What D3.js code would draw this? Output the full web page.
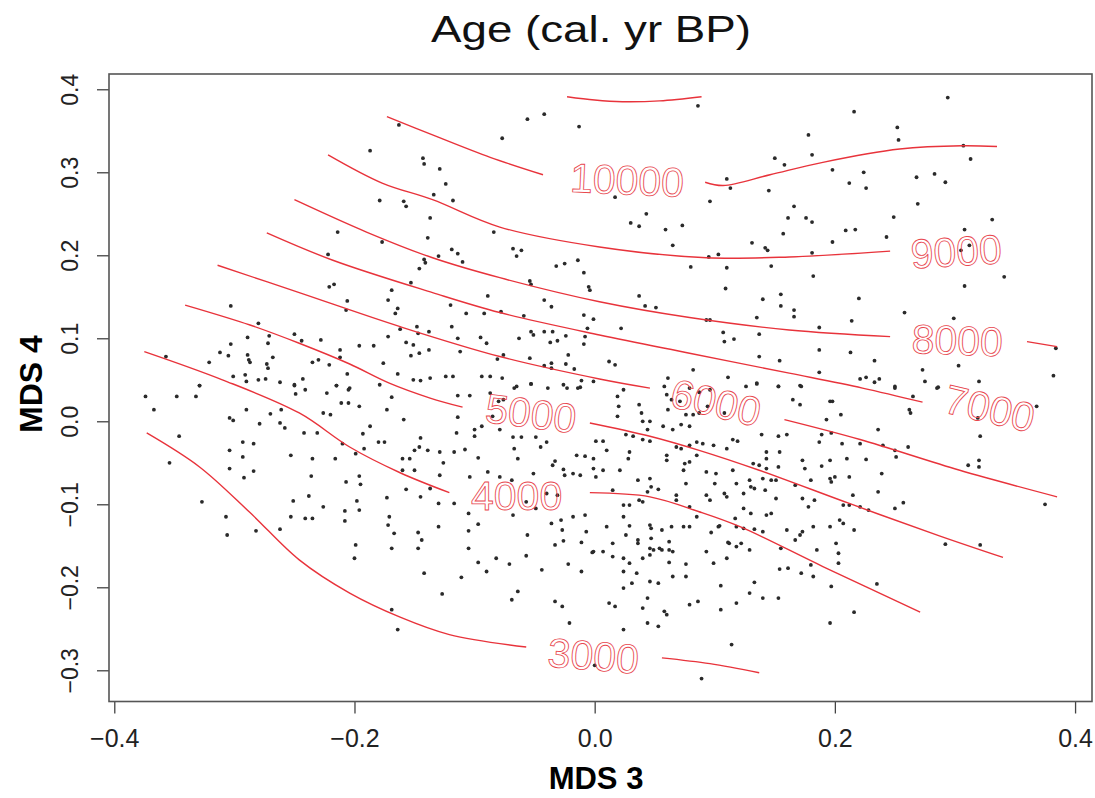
<!DOCTYPE html>
<html>
<head>
<meta charset="utf-8">
<script src="https://cdnjs.cloudflare.com/ajax/libs/d3/7.8.5/d3.min.js"></script>
<style>
    body { margin: 0; background: #fff; }
    text { font-family: "Liberation Sans", Arial, sans-serif; }
</style>
</head>
<body>
<div id="chart"></div>
<script>
/*
ordination surface plot: sites on MDS 3 / MDS 4 with fitted age contours
 */

//axis ticks and plot limits:
var xTicks = [-0.4, -0.2, 0.0, 0.2, 0.4];
var yTicks = [-0.3, -0.2, -0.1, 0.0, 0.1, 0.2, 0.3, 0.4];
var xLimits = [-0.4044, 0.4141];
var yLimits = [-0.3376, 0.4184];

//contour pieces, [MDS3, MDS4], split where the label sits:
var c3000a = [[-0.373, -0.014], [-0.329, -0.055], [-0.287, -0.110], [-0.246, -0.167], [-0.204, -0.207], [-0.162, -0.236], [-0.121, -0.257], [-0.057, -0.272]];
var c3000b = [[0.056, -0.285], [0.096, -0.292], [0.137, -0.303]];
var c4000a = [[-0.375, 0.084], [-0.310, 0.050], [-0.246, 0.010], [-0.204, -0.031], [-0.162, -0.062], [-0.121, -0.086]];
var c4000b = [[-0.004, -0.086], [0.046, -0.091], [0.087, -0.109], [0.121, -0.127], [0.190, -0.175], [0.271, -0.230]];
var c5000a = [[-0.341, 0.140], [-0.287, 0.116], [-0.246, 0.094], [-0.204, 0.069], [-0.171, 0.046], [-0.137, 0.028], [-0.110, 0.017]];
var c5000b = [[-0.004, -0.002], [0.046, -0.018], [0.087, -0.035], [0.137, -0.059], [0.212, -0.099], [0.287, -0.138], [0.340, -0.164]];
var c6000a = [[-0.314, 0.188], [-0.246, 0.155], [-0.162, 0.114], [-0.079, 0.078], [0.004, 0.051], [0.046, 0.040]];
var c6000b = [[0.158, 0.002], [0.221, -0.022], [0.304, -0.059], [0.385, -0.091]];
var c7000a = [[-0.273, 0.227], [-0.218, 0.194], [-0.135, 0.155], [-0.079, 0.131], [0.004, 0.104], [0.079, 0.082], [0.162, 0.058], [0.223, 0.040], [0.273, 0.023]];
var c8000a = [[-0.250, 0.267], [-0.190, 0.228], [-0.135, 0.197], [-0.079, 0.173], [0.004, 0.144], [0.079, 0.125], [0.162, 0.110], [0.246, 0.102]];
var c8000b = [[0.360, 0.096], [0.385, 0.090]];
var c9000a = [[-0.222, 0.321], [-0.177, 0.287], [-0.135, 0.267], [-0.079, 0.234], [0.004, 0.210], [0.093, 0.197], [0.162, 0.198], [0.246, 0.205]];
var c10000a = [[-0.173, 0.367], [-0.135, 0.345], [-0.087, 0.318], [-0.043, 0.297]];
var c10000b = [[0.092, 0.288], [0.107, 0.284], [0.146, 0.297], [0.190, 0.312], [0.254, 0.328], [0.306, 0.332], [0.335, 0.331]];
var c11000a = [[-0.023, 0.391], [0.000, 0.387], [0.023, 0.385], [0.054, 0.386], [0.089, 0.391]];

//contour labels:
var labelLevels = [3000, 4000, 5000, 6000, 7000, 8000, 9000, 10000];
var labelX = [-0.001, -0.065, -0.053, 0.101, 0.329, 0.302, 0.301, 0.027];
var labelY = [-0.282, -0.089, 0.010, 0.023, 0.016, 0.098, 0.205, 0.291];

//site scores [MDS3, MDS4]:
var samples = [
    [-0.163, 0.357], [-0.187, 0.326], [-0.143, 0.317], [-0.142, 0.310], [-0.129, 0.304], [-0.124, 0.286], [-0.134, 0.273], [-0.118, 0.266],
    [-0.179, 0.266], [-0.159, 0.265], [-0.157, 0.259], [-0.137, 0.245], [-0.139, 0.221], [-0.084, 0.228], [-0.077, 0.341], [-0.056, 0.364],
    [-0.042, 0.370], [-0.013, 0.355], [-0.214, 0.228], [-0.177, 0.216], [-0.119, 0.207], [-0.114, 0.202], [-0.110, 0.192], [-0.068, 0.208],
    [-0.061, 0.206], [-0.065, 0.199], [-0.142, 0.195], [-0.141, 0.191], [-0.130, 0.199], [-0.146, 0.184], [-0.222, 0.201], [-0.153, 0.167],
    [-0.169, 0.158], [-0.221, 0.162], [-0.217, 0.165], [-0.206, 0.145], [-0.207, 0.134], [-0.172, 0.146], [-0.164, 0.136], [-0.166, 0.130],
    [-0.120, 0.140], [-0.089, 0.151], [-0.107, 0.130], [-0.092, 0.130], [-0.078, 0.132], [-0.059, 0.127], [-0.054, 0.169], [-0.053, 0.165],
    [-0.042, 0.146], [-0.036, 0.138], [-0.032, 0.187], [-0.025, 0.190], [-0.014, 0.194], [-0.009, 0.179], [-0.005, 0.162], [-0.004, 0.158],
    [-0.009, 0.128], [-0.001, 0.123], [-0.006, 0.112], [-0.008, 0.102], [-0.009, 0.093], [-0.303, 0.139], [-0.280, 0.118], [-0.271, 0.103],
    [-0.272, 0.094], [-0.250, 0.105], [-0.244, 0.097], [-0.228, 0.098], [-0.212, 0.086], [-0.212, 0.077], [-0.196, 0.091], [-0.184, 0.091],
    [-0.162, 0.111], [-0.148, 0.114], [-0.147, 0.106], [-0.138, 0.108], [-0.172, 0.102], [-0.157, 0.095], [-0.151, 0.092], [-0.153, 0.079],
    [-0.146, 0.082], [-0.138, 0.086], [-0.119, 0.114], [-0.114, 0.100], [-0.112, 0.084], [-0.095, 0.101], [-0.090, 0.094], [-0.076, 0.080],
    [-0.081, 0.075], [-0.054, 0.076], [-0.063, 0.100], [-0.053, 0.108], [-0.051, 0.104], [-0.042, 0.108], [-0.035, 0.108], [-0.037, 0.095],
    [-0.031, 0.097], [-0.024, 0.103], [-0.022, 0.080], [-0.042, 0.067], [-0.036, 0.070], [-0.036, 0.064], [-0.024, 0.069], [-0.017, 0.063],
    [-0.011, 0.049], [-0.001, 0.048], [-0.312, 0.083], [-0.305, 0.079], [-0.303, 0.093], [-0.289, 0.101], [-0.289, 0.080], [-0.288, 0.074],
    [-0.287, 0.071], [-0.321, 0.071], [-0.268, 0.077], [-0.273, 0.069], [-0.272, 0.064], [-0.235, 0.071], [-0.230, 0.074], [-0.221, 0.068],
    [-0.176, 0.070], [-0.206, 0.057], [-0.164, 0.057], [-0.151, 0.050], [-0.145, 0.049], [-0.137, 0.052], [-0.124, 0.054], [-0.118, 0.054],
    [-0.094, 0.054], [-0.087, 0.054], [-0.077, 0.052], [-0.053, 0.045], [-0.067, 0.040], [-0.023, 0.040], [-0.014, 0.040], [-0.329, 0.043],
    [-0.301, 0.054], [-0.291, 0.056], [-0.290, 0.048], [-0.280, 0.050], [-0.274, 0.051], [-0.262, 0.047], [-0.250, 0.043], [-0.243, 0.051],
    [-0.215, 0.043], [-0.204, 0.040], [-0.179, 0.044], [-0.357, 0.078],
    [0.086, 0.380], [0.216, 0.373], [0.294, 0.390], [0.252, 0.354], [0.253, 0.339], [0.178, 0.345], [0.181, 0.321], [0.150, 0.317],
    [0.158, 0.309], [0.198, 0.303], [0.224, 0.300], [0.226, 0.281], [0.212, 0.287], [0.268, 0.294], [0.283, 0.298], [0.292, 0.288],
    [0.313, 0.316], [0.307, 0.332], [0.269, 0.262], [0.249, 0.246], [0.331, 0.243], [0.243, 0.222], [0.308, 0.231], [0.312, 0.212],
    [0.305, 0.206], [0.341, 0.174], [0.308, 0.163], [0.258, 0.131], [0.299, 0.124], [0.303, 0.067], [0.273, 0.062], [0.382, 0.055],
    [0.384, 0.088], [0.320, 0.048], [0.017, 0.270], [0.043, 0.250], [0.030, 0.239], [0.037, 0.235], [0.059, 0.231], [0.073, 0.236],
    [0.065, 0.212], [0.096, 0.265], [0.113, 0.281], [0.110, 0.292], [0.145, 0.278], [0.166, 0.259], [0.161, 0.245], [0.176, 0.245],
    [0.181, 0.240], [0.157, 0.226], [0.209, 0.230], [0.217, 0.231], [0.198, 0.216], [0.131, 0.215], [0.142, 0.209], [0.144, 0.206],
    [0.181, 0.203], [0.095, 0.198], [0.103, 0.201], [0.080, 0.186], [0.110, 0.185], [0.147, 0.187], [0.182, 0.175], [0.109, 0.160],
    [0.155, 0.153], [0.140, 0.147], [0.155, 0.139], [0.166, 0.134], [0.166, 0.126], [0.220, 0.148], [0.135, 0.125], [0.093, 0.122],
    [0.096, 0.122], [0.187, 0.113], [0.214, 0.121], [0.037, 0.151], [0.042, 0.139], [0.051, 0.137], [0.022, 0.112], [0.107, 0.107],
    [0.108, 0.096], [0.116, 0.099], [0.137, 0.105], [0.187, 0.086], [0.213, 0.083], [0.233, 0.073], [0.137, 0.078], [0.154, 0.073],
    [0.082, 0.062], [0.111, 0.053], [0.135, 0.045], [0.153, 0.042], [0.171, 0.043], [0.187, 0.059], [0.221, 0.051], [0.226, 0.053],
    [0.233, 0.047], [0.237, 0.051], [0.250, 0.040], [0.285, 0.040], [0.061, 0.052], [0.012, 0.072], [0.017, 0.068],
    [-0.374, 0.030], [-0.367, 0.014], [-0.348, 0.030], [-0.332, 0.030], [-0.329, 0.043], [-0.346, -0.018], [-0.354, -0.050], [-0.327, -0.097],
    [-0.307, -0.115], [-0.306, -0.137], [-0.282, -0.132], [-0.262, -0.130], [-0.304, 0.004], [-0.301, 0.001], [-0.290, 0.014], [-0.270, 0.009],
    [-0.279, -0.003], [-0.261, 0.014], [-0.262, -0.002], [-0.258, -0.008], [-0.304, -0.035], [-0.293, -0.025], [-0.284, -0.027], [-0.293, -0.043],
    [-0.304, -0.057], [-0.292, -0.068], [-0.284, -0.060], [-0.253, -0.041], [-0.242, -0.014], [-0.235, -0.045], [-0.231, -0.014], [-0.216, -0.045],
    [-0.236, -0.066], [-0.207, -0.073], [-0.196, -0.066], [-0.195, -0.076], [-0.210, -0.027], [-0.199, -0.039], [-0.192, -0.033], [-0.251, -0.096],
    [-0.253, -0.115], [-0.241, -0.117], [-0.235, -0.117], [-0.238, -0.090], [-0.226, -0.103], [-0.208, -0.108], [-0.208, -0.120], [-0.198, -0.096],
    [-0.196, -0.107], [-0.199, -0.149], [-0.200, -0.165], [-0.250, 0.044], [-0.249, 0.033], [-0.241, 0.038], [-0.223, 0.034], [-0.205, 0.038],
    [-0.215, 0.043], [-0.211, 0.022], [-0.205, 0.022], [-0.226, 0.010], [-0.220, 0.008], [-0.196, 0.018], [-0.187, -0.006], [-0.180, -0.025],
    [-0.175, -0.025], [-0.193, -0.015], [-0.173, 0.014], [-0.159, 0.002], [-0.169, 0.029], [-0.173, -0.092], [-0.171, -0.115], [-0.172, -0.125],
    [-0.167, -0.135], [-0.169, -0.153], [-0.147, -0.134], [-0.144, -0.143], [-0.147, -0.153], [-0.142, -0.183], [-0.130, -0.127], [-0.130, -0.099],
    [-0.117, -0.099], [-0.127, -0.208], [-0.111, -0.188], [-0.105, -0.153], [-0.105, -0.132], [-0.097, -0.124], [-0.105, -0.111], [-0.129, -0.065],
    [-0.126, -0.050], [-0.117, -0.037], [-0.108, -0.034], [-0.097, -0.044], [-0.104, -0.067], [-0.089, -0.061], [-0.160, -0.045], [-0.154, -0.045],
    [-0.150, -0.035], [-0.146, -0.031], [-0.139, -0.035], [-0.145, -0.020], [-0.129, -0.037], [-0.115, -0.014], [-0.114, 0.005], [-0.100, -0.010],
    [-0.100, -0.018], [-0.094, -0.006], [-0.114, 0.031], [-0.104, 0.031], [-0.087, 0.034], [-0.076, 0.026], [-0.085, 0.006], [-0.079, -0.010],
    [-0.160, -0.059], [-0.157, -0.082], [-0.145, -0.091], [-0.137, -0.081], [-0.150, -0.059], [-0.097, -0.170], [-0.090, -0.181], [-0.082, -0.165],
    [-0.071, -0.172], [-0.057, -0.162], [-0.068, -0.113], [-0.056, -0.137], [-0.069, -0.215], [-0.064, -0.205], [-0.044, -0.179], [-0.033, -0.149],
    [-0.033, -0.217], [-0.027, -0.223], [-0.021, -0.243], [-0.022, -0.172], [-0.011, -0.181], [-0.011, -0.146], [-0.007, -0.133], [-0.002, -0.158],
    [-0.027, -0.131], [-0.026, -0.144], [-0.036, -0.123], [-0.028, -0.119], [-0.018, -0.115], [-0.008, -0.113], [-0.049, -0.105], [-0.057, -0.097],
    [-0.040, -0.087], [-0.031, -0.089], [-0.025, -0.065], [-0.018, -0.063], [-0.012, -0.065], [-0.008, -0.042], [-0.015, -0.041], [-0.026, -0.058],
    [-0.033, -0.048], [-0.035, -0.053], [-0.045, -0.031], [-0.040, -0.025], [-0.049, -0.019], [-0.068, -0.019], [-0.067, -0.033], [-0.064, -0.045],
    [-0.061, -0.019], [-0.080, 0.024], [-0.065, 0.042], [-0.053, 0.045], [-0.039, 0.040], [-0.026, 0.044], [-0.012, 0.041], [-0.169, -0.227],
    [-0.164, -0.251], [-0.079, -0.067], [-0.069, -0.071], [-0.051, -0.063],
    [0.024, 0.038], [0.019, 0.030], [0.020, 0.018], [0.019, 0.006], [0.037, 0.020], [0.039, 0.010], [0.040, 0.000], [0.046, 0.000],
    [0.058, 0.042], [0.060, 0.032], [0.061, 0.014], [0.064, 0.026], [0.071, 0.024], [0.079, 0.040], [0.087, 0.035], [0.096, 0.038],
    [0.094, 0.018], [0.108, 0.010], [0.087, 0.010], [0.076, 0.008], [0.082, 0.008], [0.057, -0.006], [0.065, -0.010], [0.072, -0.004],
    [0.079, -0.006], [0.044, -0.010], [0.026, -0.016], [0.032, -0.018], [0.040, -0.022], [0.046, -0.024], [0.007, -0.024], [0.001, -0.024],
    [0.010, -0.035], [-0.001, -0.045], [-0.001, -0.057], [0.001, -0.067], [0.007, -0.059], [0.021, -0.059], [0.029, -0.037], [0.028, -0.045],
    [0.036, -0.071], [0.046, -0.069], [0.060, -0.041], [0.060, -0.047], [0.074, -0.059], [0.075, -0.051], [0.079, -0.049], [0.085, -0.041],
    [0.076, -0.075], [0.068, -0.031], [0.072, -0.033], [0.079, -0.029], [0.085, -0.025], [0.090, -0.027], [0.099, -0.029], [0.110, -0.033],
    [0.115, -0.022], [0.119, -0.024], [0.093, -0.061], [0.101, -0.063], [0.100, -0.075], [0.108, -0.087], [0.115, -0.059], [0.118, -0.075],
    [0.124, -0.087], [0.130, -0.079], [0.133, -0.081], [0.129, -0.071], [0.132, -0.051], [0.137, -0.053], [0.140, -0.069], [0.143, -0.057],
    [0.147, -0.071], [0.151, -0.071], [0.142, -0.083], [0.151, -0.093], [0.143, -0.113], [0.147, -0.111], [0.130, -0.111], [0.124, -0.105],
    [0.117, -0.117], [0.103, -0.127], [0.110, -0.091], [0.096, -0.095], [0.093, -0.089], [0.079, -0.103], [0.085, -0.115], [0.068, -0.089],
    [0.068, -0.095], [0.053, -0.082], [0.047, -0.079], [0.044, -0.085], [0.040, -0.097], [0.037, -0.095], [0.029, -0.101], [0.024, -0.101],
    [0.015, -0.083], [0.024, -0.115], [0.010, -0.127], [0.029, -0.126], [0.046, -0.125], [0.047, -0.129], [0.056, -0.131], [0.064, -0.127],
    [0.074, -0.127], [0.079, -0.127], [0.062, -0.145], [0.062, -0.155], [0.065, -0.157], [0.056, -0.155], [0.047, -0.141], [0.049, -0.155],
    [0.036, -0.143], [0.036, -0.147], [0.026, -0.137], [0.015, -0.147], [0.015, -0.163], [0.007, -0.157], [-0.001, -0.157], [0.024, -0.165],
    [0.029, -0.171], [0.040, -0.165], [0.046, -0.161], [0.046, -0.153], [0.054, -0.153], [0.062, -0.170], [0.076, -0.172], [0.076, -0.187],
    [0.065, -0.187], [0.053, -0.195], [0.046, -0.193], [0.031, -0.195], [0.024, -0.201], [0.024, -0.181], [0.035, -0.183], [0.044, -0.213],
    [0.040, -0.225], [0.044, -0.243], [0.053, -0.247], [0.058, -0.229], [0.060, -0.233], [0.024, -0.251], [0.012, -0.219], [0.017, -0.223],
    [0.079, -0.221], [0.086, -0.217], [0.105, -0.227], [0.118, -0.219], [0.129, -0.207], [0.140, -0.213], [0.153, -0.213], [0.133, -0.194],
    [0.105, -0.198], [0.093, -0.157], [0.099, -0.171], [0.110, -0.165], [0.112, -0.147], [0.118, -0.151], [0.122, -0.147], [0.129, -0.155],
    [0.104, -0.126], [0.097, -0.134], [0.111, -0.146], [0.118, -0.127], [0.124, -0.129], [0.133, -0.130], [0.140, -0.133], [0.155, -0.153],
    [0.160, -0.131], [0.173, -0.133], [0.171, -0.137], [0.167, -0.143], [0.182, -0.127], [0.185, -0.155], [0.180, -0.173], [0.161, -0.177],
    [0.154, -0.178], [0.172, -0.183], [0.182, -0.187], [0.197, -0.199], [0.201, -0.147], [0.203, -0.159], [0.203, -0.171], [0.196, -0.127],
    [0.204, -0.119], [0.207, -0.123], [0.216, -0.131], [0.196, -0.069], [0.200, -0.067], [0.212, -0.067], [0.212, -0.101], [0.215, -0.089],
    [0.221, -0.103], [0.228, -0.107], [0.207, -0.101], [0.183, -0.095], [0.178, -0.103], [0.173, -0.093], [0.180, -0.071], [0.167, -0.077],
    [0.153, -0.055], [0.154, -0.037], [0.143, -0.037], [0.143, -0.045], [0.153, -0.018], [0.160, -0.016], [0.139, -0.016], [0.173, -0.047],
    [0.175, -0.057], [0.189, -0.054], [0.196, -0.047], [0.210, -0.045], [0.226, -0.046], [0.197, -0.073], [0.187, -0.025], [0.189, -0.016],
    [0.197, -0.014], [0.206, -0.027], [0.221, -0.027], [0.240, -0.029], [0.250, -0.035], [0.251, -0.043], [0.261, -0.031], [0.236, -0.010],
    [0.193, 0.002], [0.205, 0.008], [0.196, 0.024], [0.198, 0.024], [0.171, 0.020], [0.165, 0.026], [0.153, 0.042], [0.172, 0.042],
    [0.135, 0.046], [0.126, 0.042], [0.250, 0.042], [0.286, 0.041], [0.275, 0.048], [0.262, 0.014], [0.263, 0.010], [0.265, 0.030],
    [0.319, 0.004], [0.321, -0.018], [0.311, -0.053], [0.320, -0.047], [0.320, -0.055], [0.375, -0.100], [0.368, 0.018], [0.292, -0.148],
    [0.321, -0.149], [0.235, -0.196], [0.216, -0.230], [0.196, -0.243], [0.239, -0.063], [0.236, -0.085], [0.250, -0.105], [0.257, -0.098],
    [0.114, -0.269], [0.089, -0.310], [0.000, -0.294]
];

//build contour table from the pieces:
var contours = [
    {level: 3000, pieces: [c3000a, c3000b]},
    {level: 4000, pieces: [c4000a, c4000b]},
    {level: 5000, pieces: [c5000a, c5000b]},
    {level: 6000, pieces: [c6000a, c6000b]},
    {level: 7000, pieces: [c7000a]},
    {level: 8000, pieces: [c8000a, c8000b]},
    {level: 9000, pieces: [c9000a]},
    {level: 10000, pieces: [c10000a, c10000b]},
    {level: 11000, pieces: [c11000a]}
];

var width = 1095;
var height = 798;
var red = "#e8333b";

//create plot pane:
var plot = d3.select("#chart")
    .append("svg")
    .attr("width", width)
    .attr("height", height);

//set Scales
var xScale = d3.scaleLinear().domain(xLimits).range([109, 1092]);
var yScale = d3.scaleLinear().domain(yLimits).range([701.5, 74]);

//axis:
var xAxis = d3.axisBottom(xScale).tickValues(xTicks).tickSize(12).tickFormat(d3.format(".1f"));
var yAxis = d3.axisLeft(yScale).tickValues(yTicks).tickSize(12).tickFormat(d3.format(".1f"));

var gx = plot.append("g")
    .attr("class", "axis")
    .attr("transform", "translate(0," + yScale.range()[0] + ")")
    .call(xAxis);
gx.select(".domain").remove();
gx.selectAll("line").attr("stroke", "#444").attr("stroke-width", 1.3);
gx.selectAll("text")
    .attr("y", 45)
    .attr("dy", 0)
    .attr("font-size", "25px")
    .attr("fill", "#222");

var gy = plot.append("g")
    .attr("class", "axis")
    .attr("transform", "translate(" + xScale.range()[0] + ",0)")
    .call(yAxis);
gy.select(".domain").remove();
gy.selectAll("line").attr("stroke", "#444").attr("stroke-width", 1.3);
gy.selectAll("text")
    .attr("transform", "rotate(-90)")
    .attr("x", 0)
    .attr("y", -31)
    .attr("dy", 0)
    .attr("text-anchor", "middle")
    .attr("font-size", "23px")
    .attr("fill", "#222");

//box around the plot region
plot.append("rect")
    .attr("x", xScale.range()[0])
    .attr("y", yScale.range()[1])
    .attr("width", xScale.range()[1] - xScale.range()[0])
    .attr("height", yScale.range()[0] - yScale.range()[1])
    .attr("fill", "none")
    .attr("stroke", "#555")
    .attr("stroke-width", 1.6);

//titles
plot.append("text")
    .attr("x", 591)
    .attr("y", 42)
    .attr("text-anchor", "middle")
    .attr("font-size", "37px")
    .attr("textLength", 320)
    .attr("lengthAdjust", "spacingAndGlyphs")
    .attr("fill", "#111")
    .text("Age (cal. yr BP)");

plot.append("text")
    .attr("x", 596)
    .attr("y", 789)
    .attr("text-anchor", "middle")
    .attr("font-size", "31px")
    .attr("font-weight", "bold")
    .attr("fill", "#000")
    .text("MDS 3");

plot.append("text")
    .attr("transform", "translate(42,384) rotate(-90)")
    .attr("text-anchor", "middle")
    .attr("font-size", "32px")
    .attr("font-weight", "bold")
    .attr("fill", "#000")
    .text("MDS 4");

//site points
var panel = plot.append("g");
panel.selectAll("circle")
    .data(samples)
    .enter()
    .append("circle")
    .attr("cx", function (d) { return xScale(d[0]); })
    .attr("cy", function (d) { return yScale(d[1]); })
    .attr("r", 1.9)
    .attr("fill", "#2a2a2a");

//line helper function
var lineSegment = d3.line()
    .x(function (d) { return xScale(d[0]); })
    .y(function (d) { return yScale(d[1]); })
    .curve(d3.curveCatmullRom.alpha(0.5));

contours.forEach(function (c) {
    c.pieces.forEach(function (p) {
        panel.append("path")
            .datum(p)
            .attr("d", lineSegment)
            .attr("fill", "none")
            .attr("stroke", red)
            .attr("stroke-width", 1.4);
    });
});

//labels, turned along the gap they sit in
labelLevels.forEach(function (level, i) {
    var c = contours.filter(function (d) { return d.level === level; })[0];
    var a, b;
    if (c.pieces.length > 1) {
        a = c.pieces[0][c.pieces[0].length - 1];
        b = c.pieces[1][0];
    } else {
        a = c.pieces[0][c.pieces[0].length - 2];
        b = c.pieces[0][c.pieces[0].length - 1];
    }
    var angle = Math.atan2(yScale(b[1]) - yScale(a[1]), xScale(b[0]) - xScale(a[0])) * 180 / Math.PI;
    panel.append("text")
        .attr("transform", "translate(" + xScale(labelX[i]) + "," + yScale(labelY[i]) + ") rotate(" + angle + ")")
        .attr("text-anchor", "middle")
        .attr("dy", "0.36em")
        .attr("font-size", "41px")
        .attr("fill", "none")
        .attr("stroke", "#e8464e")
        .attr("stroke-width", 0.85)
        .text(level);
});
</script>
